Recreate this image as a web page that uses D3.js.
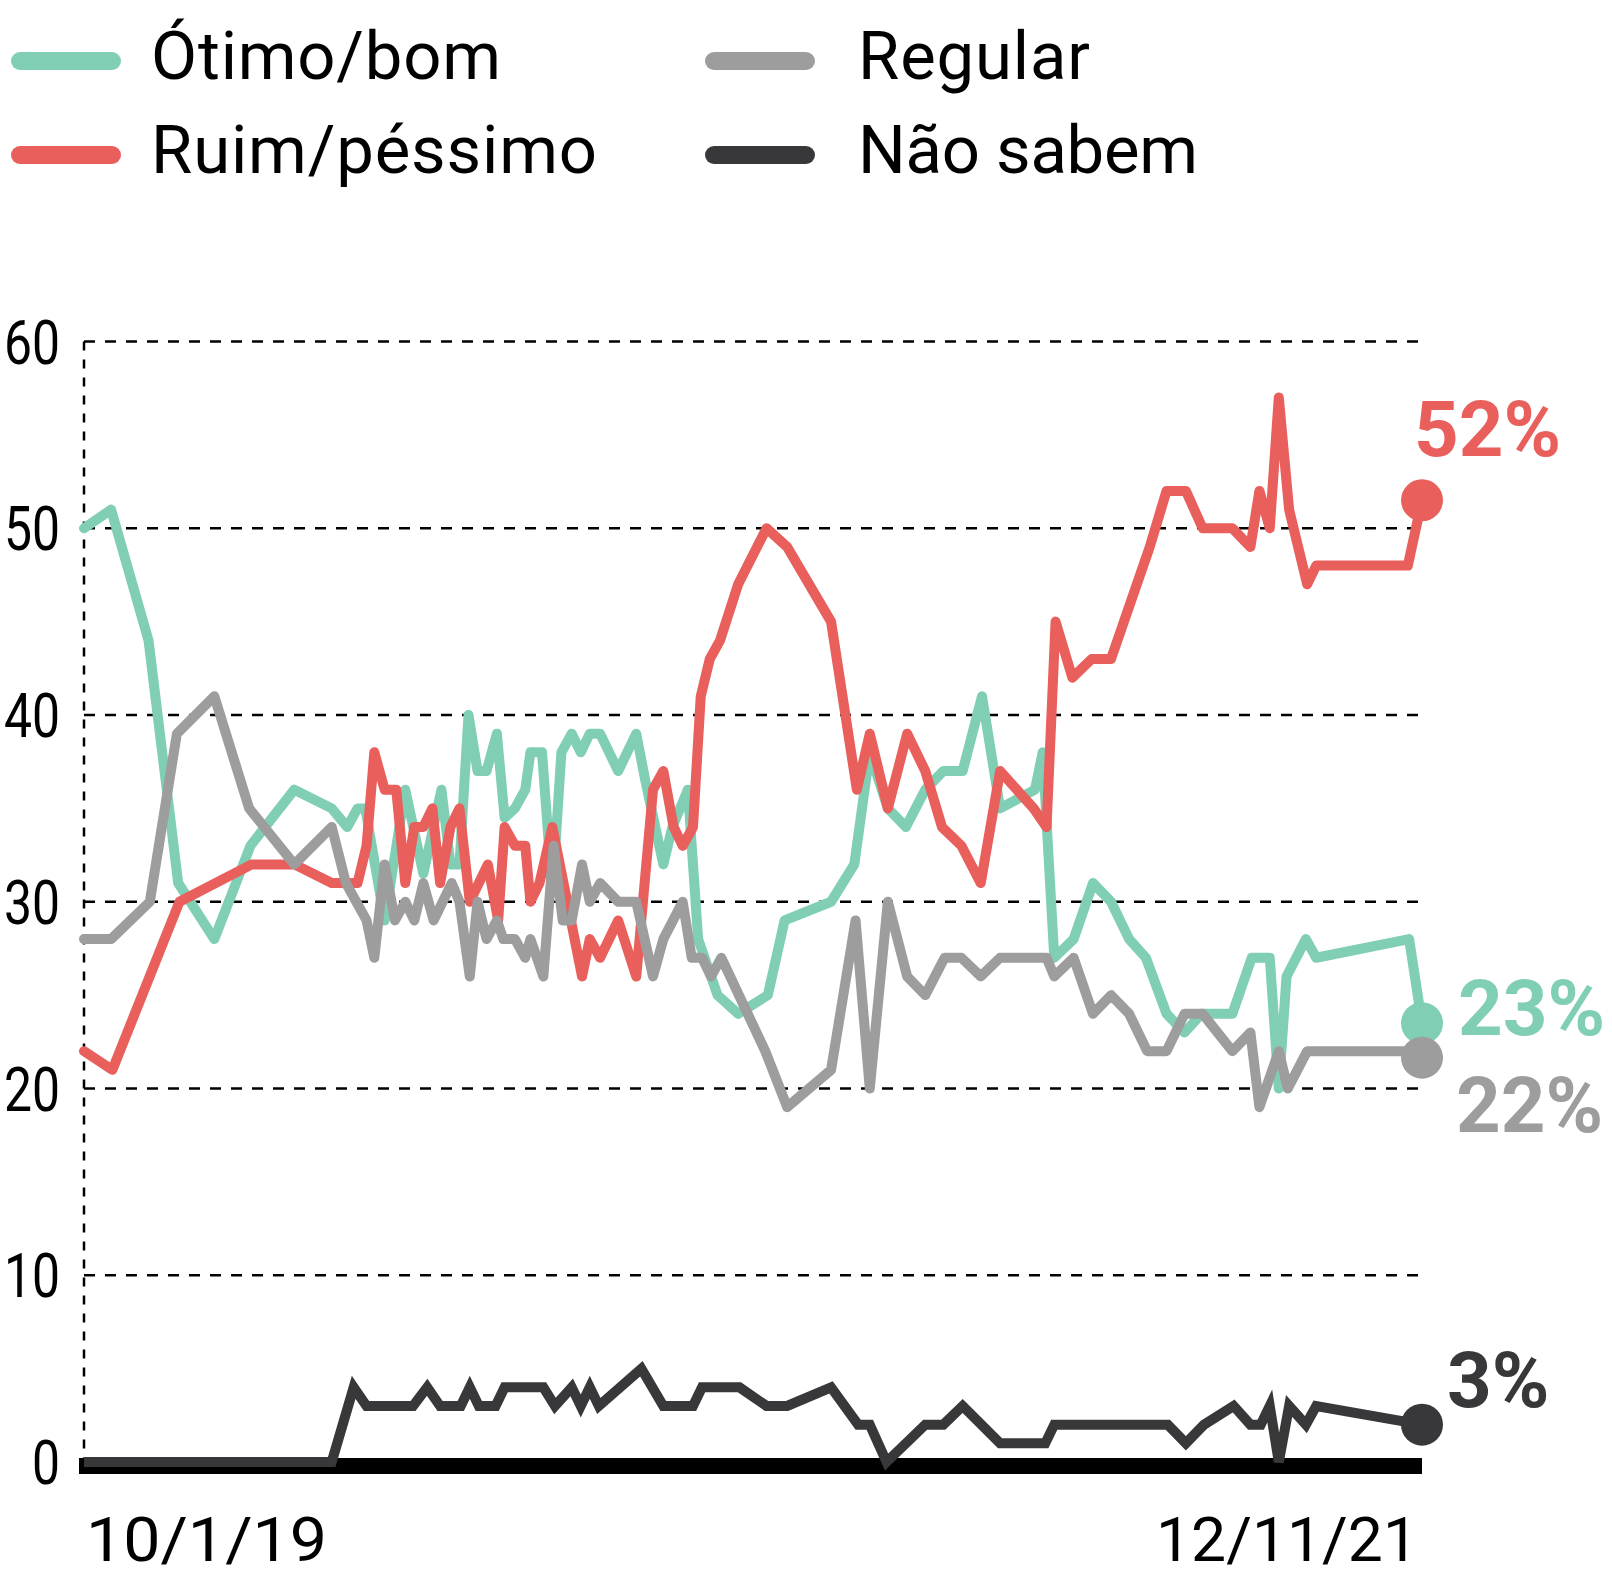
<!DOCTYPE html>
<html>
<head>
<meta charset="utf-8">
<script src="https://cdn.jsdelivr.net/npm/d3@7"></script>
<style>
  body { margin: 0; background: white; }
  svg { display: block; }
</style>
</head>
<body>
<script>
// polls are stored as [days since first poll, percentage]
var firstPoll = new Date(Date.UTC(2019, 0, 10));

var seriesNames = ["Ótimo/bom", "Ruim/péssimo", "Regular", "Não sabem"];
var seriesColours = ["#80cfb5", "#e85f5c", "#9d9d9d", "#38383a"];
var endLabels = ["23%", "52%", "22%", "3%"];
var yTicks = [0, 10, 20, 30, 40, 50, 60];

var otimoBom = [[0,50],[21,51],[50,44],[73,31],[101,28],[129,33],[163,36],[192,35],[204,34],[212,35],[218,35],
  [233,29],[249,36],[263,31.5],[277,36],[284,32],[291,32],[298,40],[305,37],[312,37],[320,39],[326,34.5],
  [334,35],[342,36],[346,38],[355,38],[363,30.5],[370,38],[378,39],[385,38],[392,39],[400,39],[414,37],
  [428,39],[435,36.5],[449,32],[456,34],[468,36],[476,28],[491,25],[507,24],[530,25],[543,29],[579,30],
  [597,32],[609,38],[623,35],[637,34],[652,36],[666,37],[681,37],[696,41],[710,35],[737,36],[743,38],
  [752,27],[767,28],[782,31],[796,30],[810,28],[823,27],[839,24],[853,23],[866,24],[890,24],[905,27],
  [919,27],[926,20],[932,26],[947,28],[955,27],[1027,28],[1037,23.5]];

var ruimPessimo = [[0,22],[22,21],[74,30],[130,32],[163,32],[192,31],[212,31],[219,33],[225,38],[233,36],
  [242,36],[249,31],[256,34],[263,34],[270,35],[276,31],[284,34],[291,35],[299,30],[313,32],[321,29],
  [326,34],[334,33],[342,33],[346,30],[353,31],[363,34],[386,26],[392,28],[400,27],[414,29],[428,26],
  [441,36],[449,37],[457,34],[464,33],[472,34],[478,41],[485,43],[493,44],[507,47],[529,50],[545,49],
  [579,45],[599,36],[609,39],[623,35],[638,39],[652,37],[665,34],[680,33],[695,31],[710,37],[736,35],
  [746,34],[753,45],[766,42],[781,43],[796,43],[811,46],[826,49],[839,52],[854,52],[867,50],[890,50],
  [904,49],[911,52],[919,50],[926,57],[934,51],[948,47],[955,48],[1026,48],[1037,51.5]];

var regular = [[0,28],[21,28],[51,30],[72,39],[101,41],[128,35],[163,32],[192,34],[203,31],[219,29],
  [225,27],[233,32],[241,29],[249,30],[256,29],[263,31],[271,29],[285,31],[291,30],[299,26],[305,30],
  [312,28],[320,29],[325,28],[334,28],[342,27],[346,28],[356,26],[364,33],[371,29],[378,29],[386,32],
  [392,30],[400,31],[414,30],[428,30],[441,26],[449,28],[464,30],[471,27],[479,27],[486,26],[494,27],
  [528,22],[545,19],[579,21],[598,29],[609,20],[623,30],[638,26],[652,25],[667,27],[680,27],[695,26],
  [710,27],[746,27],[752,26],[767,27],[782,24],[796,25],[810,24],[824,22],[839,22],[853,24],[867,24],
  [890,22],[904,23],[911,19],[926,22],[933,20],[948,22],[1028,22],[1037,21.65]];

var naoSabem = [[0,0],[192,0],[209,4],[219,3],[255,3],[266,4],[276,3],[292,3],[299,4],[306,3],[319,3],
  [326,4],[356,4],[365,3],[378,4],[385,3],[392,4],[399,3],[432,5],[449,3],[472,3],[479,4],[508,4],
  [529,3],[545,3],[579,4],[600,2],[609,2],[622,0],[652,2],[666,2],[681,3],[710,1],[745,1],[752,2],
  [840,2],[854,1],[868,2],[891,3],[904,2],[912,2],[919,3],[926,0],[934,3],[947,2],[955,3],[1037,2]];

window.onload = function() {
    var allSeries = [otimoBom, ruimPessimo, regular, naoSabem];
    var width = 1612;
    var height = 1578;
    var sans = 'Roboto, "Noto Sans", sans-serif';

    function day(n) {
        return d3.utcDay.offset(firstPoll, n);
    }
    var lastDay = d3.max(allSeries, function(s) { return d3.max(s, function(d) { return d[0]; }); });

    var x = d3.scaleUtc()
        .domain([firstPoll, day(lastDay)])
        .range([84, 1422]);
    var y = d3.scaleLinear()
        .domain([0, 60])
        .range([1462, 341.5]);

    var svg = d3.select("body")
        .append("svg")
        .attr("width", width)
        .attr("height", height)
        .style("background", "white");

    // dashed grid and left axis
    svg.selectAll(".grid")
        .data(yTicks.filter(function(t) { return t > 0; }))
        .enter()
        .append("line")
        .attr("class", "grid")
        .attr("x1", x.range()[0])
        .attr("x2", x.range()[1])
        .attr("y1", function(d) { return y(d); })
        .attr("y2", function(d) { return y(d); })
        .attr("stroke", "#000")
        .attr("stroke-width", 2.5)
        .attr("stroke-dasharray", "11,10");
    svg.append("line")
        .attr("x1", x.range()[0])
        .attr("x2", x.range()[0])
        .attr("y1", y(60))
        .attr("y2", y(0))
        .attr("stroke", "#000")
        .attr("stroke-width", 2.5)
        .attr("stroke-dasharray", "9,9");

    // narrow digits like the original face
    svg.selectAll(".ytick")
        .data(yTicks)
        .enter()
        .append("text")
        .attr("class", "ytick")
        .attr("x", 60)
        .attr("y", function(d) { return y(d) + 22; })
        .attr("text-anchor", "end")
        .attr("textLength", function(d) { return String(d).length * 28; })
        .attr("lengthAdjust", "spacingAndGlyphs")
        .style("font-family", sans)
        .style("font-size", "62px")
        .style("fill", "#000")
        .text(function(d) { return d; });

    // thick base line at zero
    svg.append("line")
        .attr("x1", x.range()[0] - 5)
        .attr("x2", x.range()[1])
        .attr("y1", y(0) + 4)
        .attr("y2", y(0) + 4)
        .attr("stroke", "#000")
        .attr("stroke-width", 16);

    // first and last poll dates
    var fmt = d3.utcFormat("%-d/%-m/%y");
    svg.append("text")
        .attr("x", x.range()[0] + 2)
        .attr("y", 1561)
        .attr("textLength", 241)
        .attr("lengthAdjust", "spacingAndGlyphs")
        .style("font-family", sans)
        .style("font-size", "62px")
        .text(fmt(x.domain()[0]));
    svg.append("text")
        .attr("x", x.range()[1] - 4)
        .attr("y", 1561)
        .attr("text-anchor", "end")
        .attr("textLength", 262)
        .attr("lengthAdjust", "spacingAndGlyphs")
        .style("font-family", sans)
        .style("font-size", "62px")
        .text(fmt(x.domain()[1]));

    var line = d3.line()
        .x(function(d) { return x(day(d[0])); })
        .y(function(d) { return y(d[1]); });

    allSeries.forEach(function(s, i) {
        svg.append("path")
            .datum(s)
            .attr("d", line)
            .attr("fill", "none")
            .attr("stroke", seriesColours[i])
            .attr("stroke-width", 10)
            .attr("stroke-linejoin", i == 3 ? "miter" : "round")
            .attr("stroke-linecap", i == 3 ? "butt" : "round");
    });

    // end dots and labels
    var labelShift = [[36, 12], [-8, -44], [34, 74], [25, -18]];
    allSeries.forEach(function(s, i) {
        var last = s[s.length - 1];
        var cx = x(day(last[0]));
        var cy = y(last[1]);
        svg.append("circle")
            .attr("cx", cx)
            .attr("cy", cy)
            .attr("r", 21)
            .attr("fill", seriesColours[i]);
        svg.append("text")
            .attr("x", cx + labelShift[i][0])
            .attr("y", cy + labelShift[i][1])
            .style("font-family", sans)
            .style("font-weight", "bold")
            .style("font-size", "78px")
            .style("fill", seriesColours[i])
            .text(endLabels[i]);
    });

    // legend, two columns
    var legendWidths = [350, 446, 232, 340];
    var legend = svg.selectAll(".legend")
        .data(seriesNames)
        .enter()
        .append("g")
        .attr("class", "legend")
        .attr("transform", function(d, i) {
            return "translate(" + (i < 2 ? 0 : 694) + "," + (i % 2 == 0 ? 61 : 155) + ")";
        });
    legend.append("line")
        .attr("x1", 20)
        .attr("x2", 112)
        .attr("stroke", function(d, i) { return seriesColours[i]; })
        .attr("stroke-width", 18)
        .attr("stroke-linecap", "round");
    legend.append("text")
        .attr("x", function(d, i) { return i < 2 ? 151 : 164; })
        .attr("y", 18)
        .attr("textLength", function(d, i) { return legendWidths[i]; })
        .style("font-family", sans)
        .style("font-size", "67px")
        .text(function(d) { return d; });
};
</script>
</body>
</html>
